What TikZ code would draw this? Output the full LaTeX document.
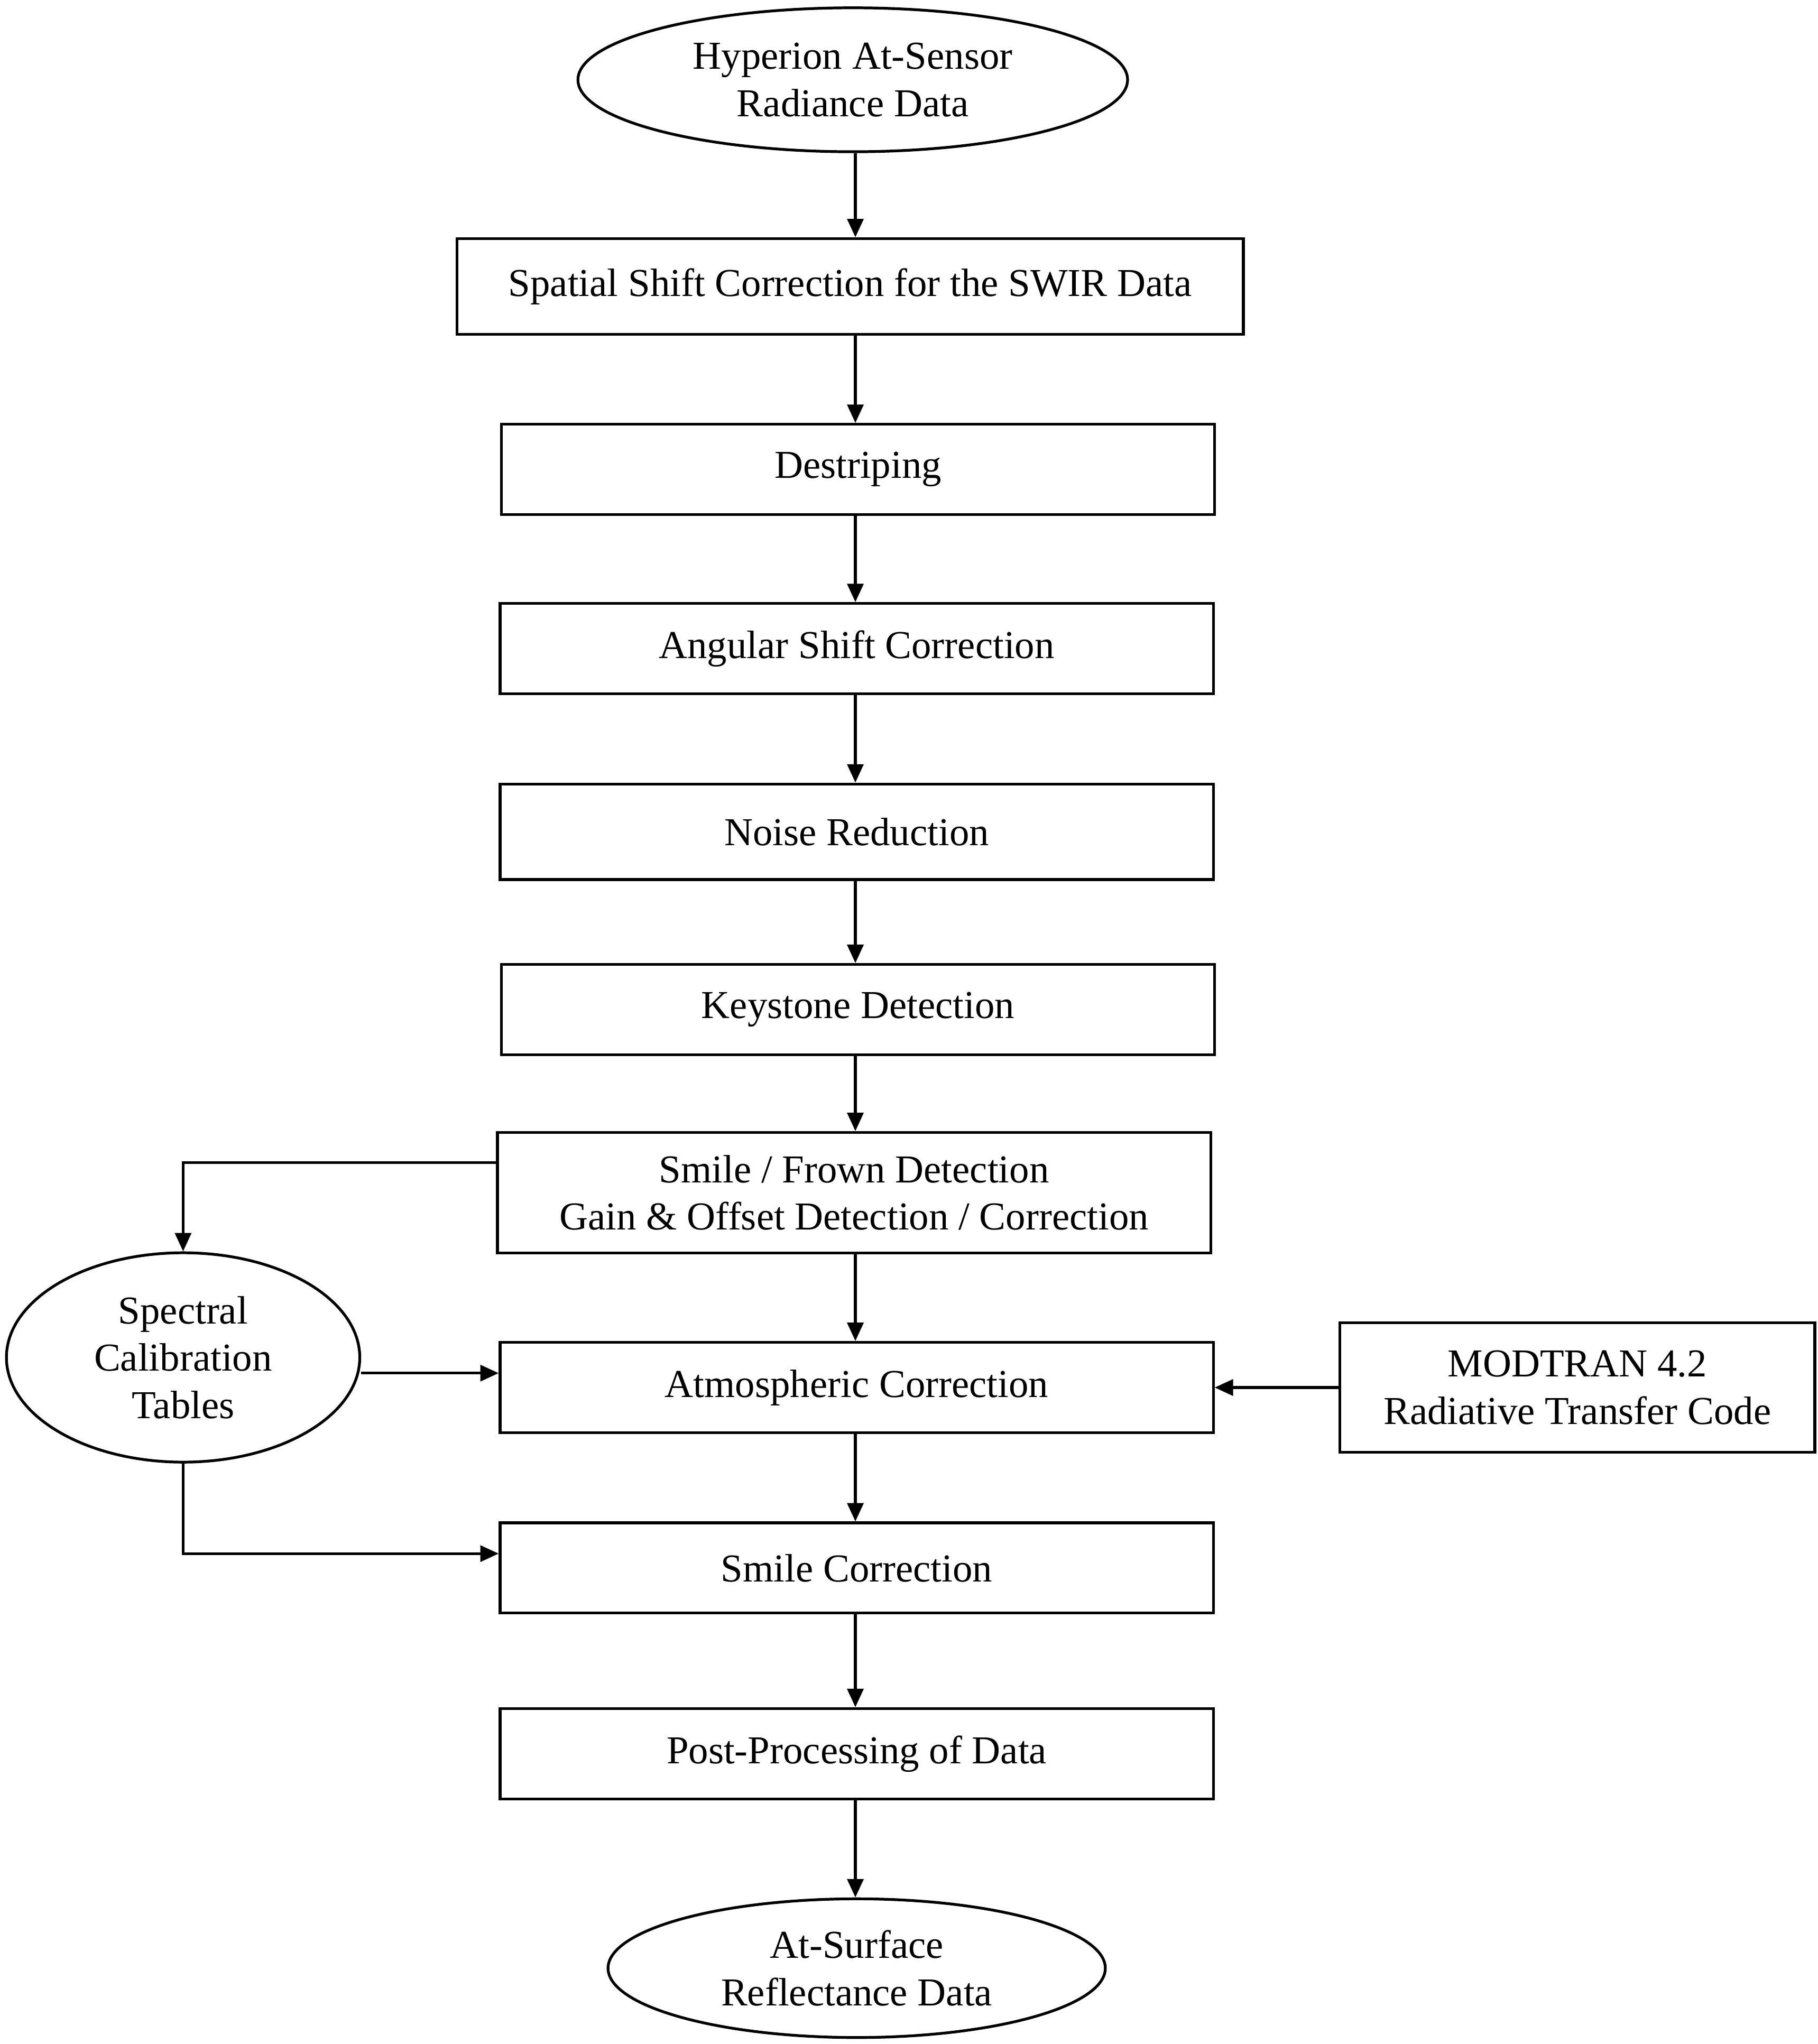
\documentclass[tikz,border=0pt]{standalone}
\usepackage{fontspec}
\setmainfont{Liberation Serif}
\usetikzlibrary{arrows.meta, positioning, shapes.geometric}

\begin{document}
\begin{tikzpicture}[
    x=0.01cm, y=-0.01cm,
    every node/.style={font=\fontsize{8.6}{10.3}\selectfont, align=center, line width=0.6pt},
    step_box/.style={draw, rectangle, inner sep=0pt, minimum width=5.45cm, minimum height=0.69cm},
    io_ellipse/.style={draw, ellipse, inner sep=0pt},
    arr/.style={-{Triangle[length=4pt, width=3.5pt]}, line width=0.6pt}
]
\useasboundingbox (0,0) rectangle (1390,1563);

% Main chain
\node[io_ellipse, minimum width=4.2cm, minimum height=1.1cm] (hyp) at (652,61) {Hyperion At-Sensor\\Radiance Data};
\node[step_box, minimum width=6.01cm, minimum height=0.73cm] (spat) at (650,219) {Spatial Shift Correction for the SWIR Data};
\node[step_box] (destr) at (656,359) {Destriping};
\node[step_box] (ang) at (655,496) {Angular Shift Correction};
\node[step_box, minimum height=0.73cm] (noise) at (655,636) {Noise Reduction};
\node[step_box] (key) at (656,772) {Keystone Detection};
\node[step_box, minimum height=0.92cm] (smfr) at (653,912) {Smile / Frown Detection\\Gain \& Offset Detection / Correction};
\node[step_box] (atm) at (655,1061) {Atmospheric Correction};
\node[step_box] (smcor) at (655,1199) {Smile Correction};
\node[step_box] (post) at (655,1341) {Post-Processing of Data};
\node[io_ellipse, minimum width=3.8cm, minimum height=1.06cm] (surf) at (655,1505) {At-Surface\\Reflectance Data};

% Side inputs
\node[io_ellipse, minimum width=2.7cm, minimum height=1.6cm] (spec) at (140,1038) {Spectral\\Calibration\\Tables};
\node[draw, rectangle, minimum width=3.63cm, minimum height=0.99cm] (modt) at (1206,1061) {MODTRAN 4.2\\Radiative Transfer Code};

% Vertical flow
\foreach \a/\b in {hyp/spat, spat/destr, destr/ang, ang/noise, noise/key, key/smfr, smfr/atm, atm/smcor, smcor/post, post/surf}
    \draw[arr] (\a.south -| 654,0) -- (\b.north -| 654,0);

% Calibration loop
\draw[arr] ([yshift=0.23cm]smfr.west) -| (spec.north);
\draw[arr] (spec.east |- 0,1050) -- (atm.west |- 0,1050);
\draw[arr] (spec.south) |- (smcor.west |- 0,1188);
\draw[arr] (modt.west) -- (atm.east |- modt.west);
\end{tikzpicture}
\end{document}
